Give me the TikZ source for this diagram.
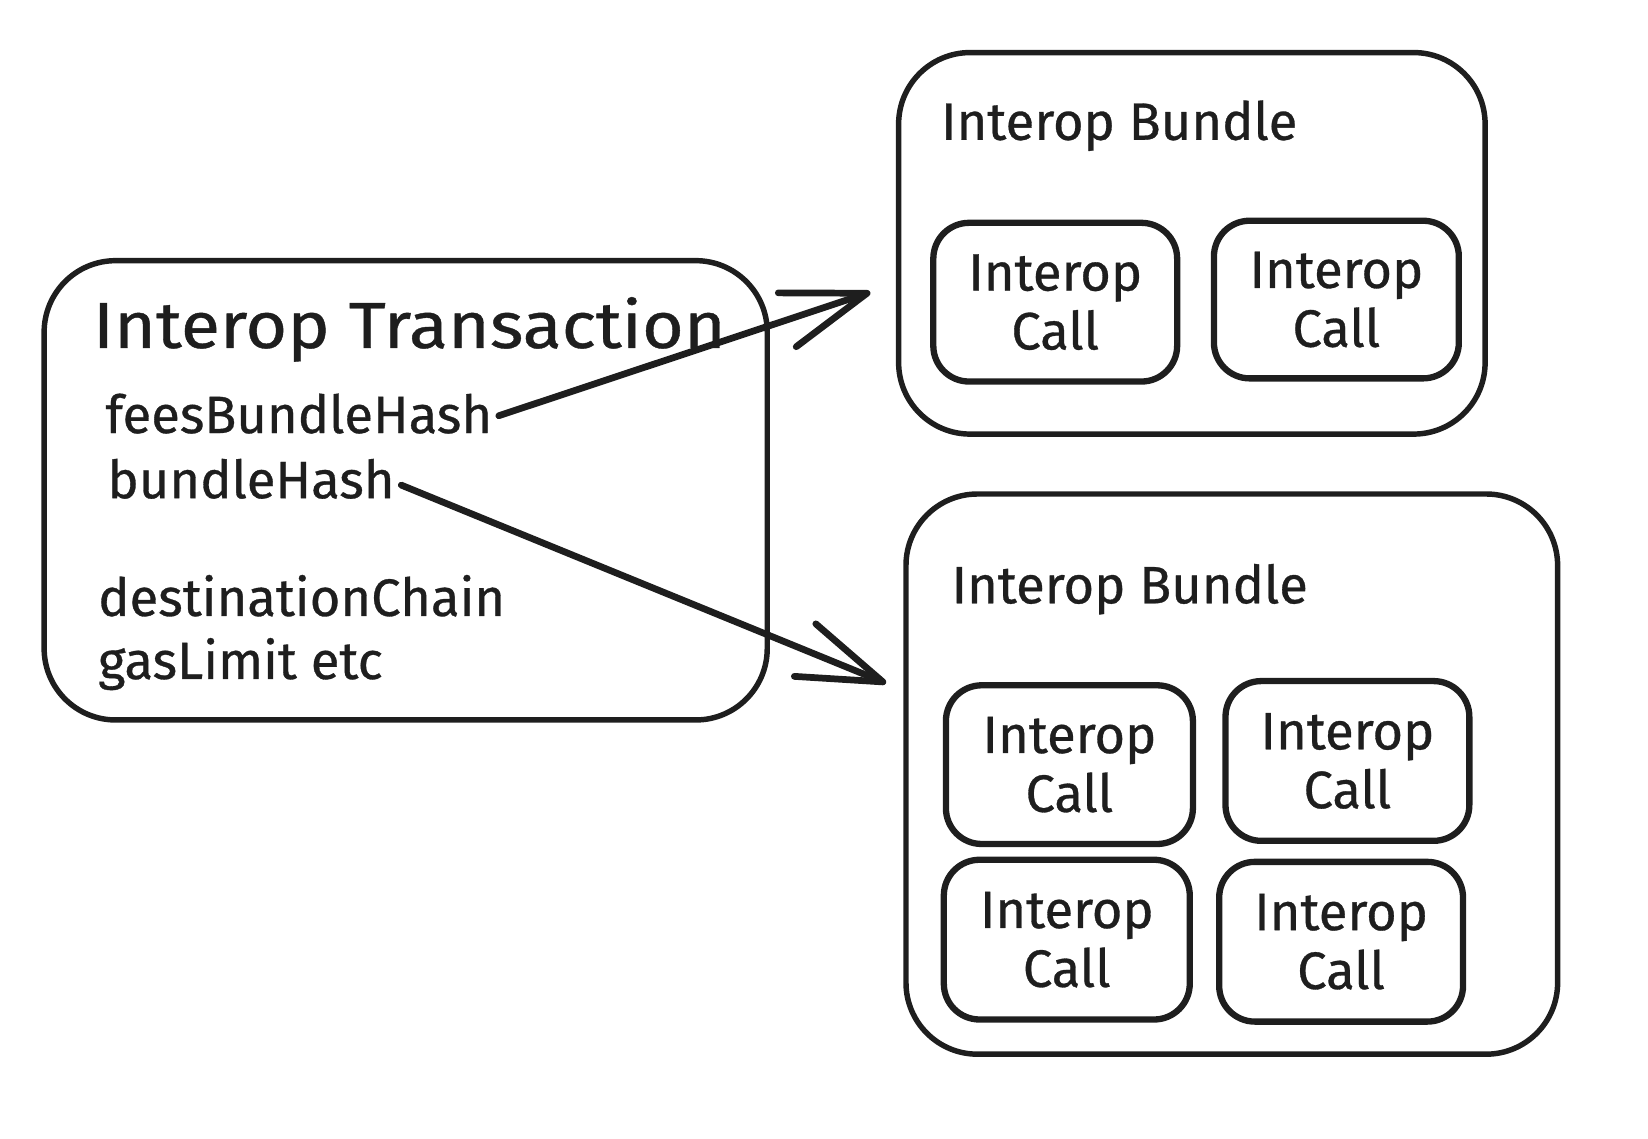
\documentclass[tikz,border=0pt]{standalone}
\usepackage{fontspec}
\setmainfont{Fira Sans}[FakeBold=0.6]
\newfontfamily\titlefont{Fira Sans}[FakeStretch=1.1,FakeBold=0.6]
\usetikzlibrary{arrows.meta,calc}
\definecolor{ink}{HTML}{1E1E1E}
\begin{document}
\begin{tikzpicture}[x=0.5pt,y=-0.5pt,
  bigbox/.style={draw=ink, line width=2.6pt, rounded corners=34pt, inner sep=0pt},
  callbox/.style={draw=ink, line width=3pt, rounded corners=17pt, inner sep=0pt,
    align=center, font=\fontsize{25}{28}\selectfont, text=ink},
  lbl/.style={anchor=base west, inner sep=0pt, font=\fontsize{25}{28}\selectfont, text=ink},
  ttl/.style={anchor=base west, inner sep=0pt, font=\titlefont\fontsize{31}{33}\selectfont, text=ink},
  arr/.style={draw=ink, line width=3.2pt, line cap=round,
    -{Straight Barb[length=40pt,width=27pt,line cap=round,line join=round]}}
]
\useasboundingbox (0,0) rectangle (1568,1083);

% Interop Transaction box
\node[bigbox, minimum width=344pt, minimum height=218.5pt] (tx) at (386,466.5) {};
\node[ttl] (txt) at (88,331) {Interop Transaction};
\node[lbl] (fees) at (100,412) {feesBundleHash};
\node[lbl] (bh) at (102,474) {bundleHash};
\node[lbl] (dest) at (93,586) {destinationChain};
\node[lbl] (gas) at (93,646) {gasLimit etc};

% Bundle 1
\node[bigbox, minimum width=279pt, minimum height=181.5pt] (b1) at (1134,231.5) {};
\node[lbl] (b1t) at (895,133) {Interop Bundle};
\node[callbox, minimum width=116pt, minimum height=75.5pt] (c1a) at (1004,287.5) {Interop\\Call};
\node[callbox, minimum width=116.5pt, minimum height=75pt] (c1b) at (1271.5,285) {Interop\\Call};

% Bundle 2
\node[bigbox, minimum width=310pt, minimum height=266.5pt] (b2) at (1172,736.5) {};
\node[lbl] (b2t) at (905,574) {Interop Bundle};
\node[callbox, minimum width=117.5pt, minimum height=75.5pt] (c2a) at (1017.5,727.5) {Interop\\Call};
\node[callbox, minimum width=116pt, minimum height=76pt] (c2b) at (1282,724) {Interop\\Call};
\node[callbox, minimum width=117pt, minimum height=76pt] (c2c) at (1015,894) {Interop\\Call};
\node[callbox, minimum width=116pt, minimum height=76pt] (c2d) at (1276,896) {Interop\\Call};

% Arrows
\coordinate (h1) at (828,278);
\coordinate (h2) at (843,650);
\draw[arr] ([xshift=3pt,yshift=-1pt]fees.east) -- (h1);
\draw[arr] ([xshift=3pt,yshift=-3pt]bh.east) -- (h2);
\end{tikzpicture}
\end{document}
